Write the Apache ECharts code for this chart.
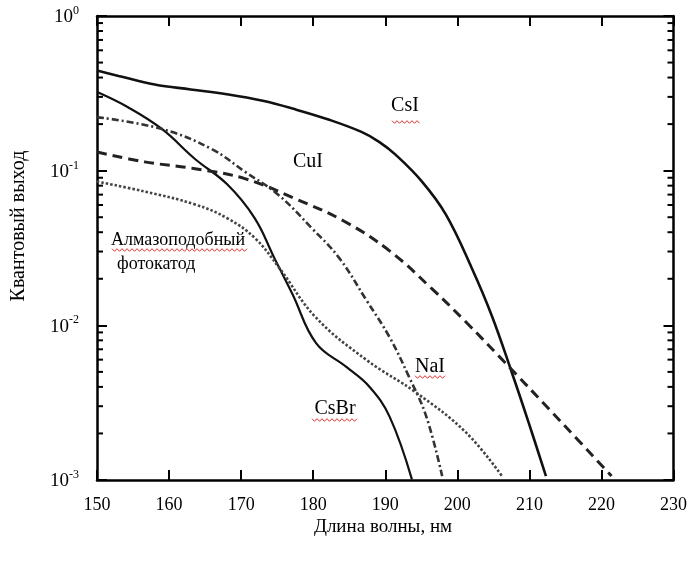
<!DOCTYPE html>
<html><head><meta charset="utf-8">
<script src="https://cdn.jsdelivr.net/npm/echarts@6/dist/echarts.min.js"></script>
<style>html,body{margin:0;padding:0;background:#fff}#c{width:690px;height:565px}</style>
</head><body><div id="c"></div>
<script>
// ---- data (wavelength, nm / quantum yield) ----
const csiX = [150, 153, 158, 163, 168, 173, 177.4, 182, 186.7, 189.2, 191.5, 195.1, 198.4, 202, 204.8, 207.6, 209.9, 212.3];
const csiY = [0.444, 0.41, 0.361, 0.335, 0.312, 0.283, 0.25, 0.215, 0.178, 0.153, 0.126, 0.085, 0.0522, 0.0235, 0.0115, 0.0049, 0.00235, 0.00106];

const csbrX = [150.1, 154.3, 159, 163.6, 168.1, 171.9, 174.6, 177.1, 180.4, 184.6, 187.8, 190.6, 193.7];
const csbrY = [0.321, 0.257, 0.186, 0.119, 0.0813, 0.0492, 0.0273, 0.016, 0.00767, 0.00538, 0.00401, 0.00257, 0.00101];

const naiX = [150, 159, 165.9, 170.5, 175.1, 179.8, 183.6, 187.4, 190.6, 193.3, 195.7, 197.9];
const naiY = [0.222, 0.186, 0.138, 0.0986, 0.0702, 0.0425, 0.0273, 0.0145, 0.00838, 0.00464, 0.00257, 0.00106];

const cuiX = [150, 156.6, 163.6, 170.5, 177.4, 184.3, 190.6, 196.5, 201.2, 205.8, 214.5, 221.4];
const cuiY = [0.132, 0.114, 0.103, 0.0889, 0.0662, 0.0471, 0.0303, 0.0172, 0.0105, 0.0063, 0.00235, 0.00106];

const diaX = [150, 156.6, 163.6, 168.1, 171.9, 175.3, 180.4, 187.4, 194.3, 201.2, 206.2];
const diaY = [0.085, 0.0733, 0.0605, 0.0492, 0.0367, 0.0235, 0.0112, 0.00597, 0.00367, 0.00203, 0.00106];

const xTicks = [150, 160, 170, 180, 190, 200, 210, 220, 230];
const yMin = 0.001, yMax = 1;
const minorTickValues = [];
[0.001, 0.01, 0.1].forEach(d => { for (let k = 2; k <= 9; k++) minorTickValues.push(+(d * k).toPrecision(3)); });

const xTitle = 'Длина волны, нм';
const yTitle = 'Квантовый выход';

const FONT = "'Liberation Serif', 'Times New Roman', serif";

function pairs(xs, ys) { return xs.map((x, i) => [x, ys[i]]); }

const chart = echarts.init(document.getElementById('c'), null, { renderer: 'canvas' });

const axisLine = { show: true, lineStyle: { color: '#000', width: 2.5 } };
const majorTick = { show: true, inside: true, length: 10, lineStyle: { color: '#000', width: 2 } };

function wavy(x1, x2, y) {
  const pts = [];
  let up = true;
  for (let x = x1; x <= x2; x += 2.5) { pts.push([x, y + (up ? -1.3 : 1.3)]); up = !up; }
  return { type: 'polyline', shape: { points: pts }, style: { stroke: '#e03030', lineWidth: 1, fill: null }, z: 100 };
}

function label(text, x, y, size, align, extra) {
  return Object.assign({
    type: 'text', x: x, y: y,
    style: { text: text, font: size + 'px ' + FONT, fill: '#000', textAlign: align || 'center', textVerticalAlign: 'middle' },
    z: 100
  }, extra || {});
}

const lineCommon = { type: 'line', showSymbol: false, smooth: 0.4, clip: true };

const option = {
  backgroundColor: '#fff',
  animation: false,
  grid: { left: 97, right: 15, top: 13, bottom: 85, containLabel: false },
  xAxis: [
    {
      type: 'value', min: 150, max: 230, interval: 10, position: 'bottom',
      axisLine: axisLine, axisTick: majorTick, splitLine: { show: false },
      axisLabel: { margin: 16, fontFamily: FONT, fontSize: 18, color: '#000' }
    },
    {
      type: 'value', min: 150, max: 230, interval: 10, position: 'top',
      axisLine: axisLine, axisTick: majorTick, splitLine: { show: false },
      axisLabel: { show: false }
    }
  ],
  yAxis: [
    {
      type: 'log', logBase: 10, min: yMin, max: yMax, position: 'left',
      axisLine: axisLine, axisTick: majorTick, splitLine: { show: false },
      axisLabel: {
        margin: 18, color: '#000',
        formatter: function (v) { const e = Math.round(Math.log10(v)); return '{b|10}{s|' + e + '}'; },
        rich: {
          b: { fontFamily: FONT, fontSize: 19, color: '#000', lineHeight: 22, verticalAlign: 'bottom', padding: [8, 0, 0, 0] },
          s: { fontFamily: FONT, fontSize: 12, color: '#000', lineHeight: 22, verticalAlign: 'top', padding: [0, 0, 4, 0] }
        }
      }
    },
    {
      type: 'log', logBase: 10, min: yMin, max: yMax, position: 'right',
      axisLine: axisLine, axisTick: majorTick, splitLine: { show: false },
      axisLabel: { show: false }
    }
  ],
  series: [
    {
      name: 'minor ticks', type: 'custom', xAxisIndex: 0, yAxisIndex: 0, silent: true, z: 10,
      data: minorTickValues.map(v => [150, v]),
      encode: { x: 0, y: 1 },
      renderItem: function (params, api) {
        const v = api.value(1);
        const pL = api.coord([150, v]);
        const pR = api.coord([230, v]);
        return {
          type: 'group', children: [
            { type: 'line', shape: { x1: pL[0], y1: pL[1], x2: pL[0] + 6, y2: pL[1] }, style: { stroke: '#000', lineWidth: 2 } },
            { type: 'line', shape: { x1: pR[0], y1: pR[1], x2: pR[0] - 6, y2: pR[1] }, style: { stroke: '#000', lineWidth: 2 } }
          ]
        };
      }
    },
    Object.assign({ name: 'CsI', data: pairs(csiX, csiY), lineStyle: { color: '#111', width: 2.6 } }, lineCommon),
    Object.assign({ name: 'CsBr', data: pairs(csbrX, csbrY), lineStyle: { color: '#111', width: 2.2 } }, lineCommon),
    Object.assign({ name: 'CuI', data: pairs(cuiX, cuiY), lineStyle: { color: '#222', width: 3, type: [10, 6] } }, lineCommon),
    Object.assign({ name: 'NaI', data: pairs(naiX, naiY), lineStyle: { color: '#333', width: 2.6, type: [7, 3, 2, 3] } }, lineCommon),
    Object.assign({ name: 'Алмазоподобный фотокатод', data: pairs(diaX, diaY), lineStyle: { color: '#444', width: 2.6, type: [2.5, 2] } }, lineCommon)
  ],
  graphic: [
    label('CsI', 405, 106, 20),
    label('CuI', 308, 162, 20),
    label('Алмазоподобный', 111, 240, 18, 'left'),
    label('фотокатод', 117, 264, 18, 'left'),
    label('NaI', 430, 367, 20),
    label('CsBr', 335, 409, 20),
    wavy(392, 421, 122),
    wavy(415, 445, 377),
    wavy(312, 358, 420),
    wavy(112, 248, 250),
    label(xTitle, 383, 527, 19),
    label(yTitle, 19, 226, 20, 'center', { rotation: Math.PI / 2 })
  ]
};

chart.setOption(option);
</script>
</body></html>
